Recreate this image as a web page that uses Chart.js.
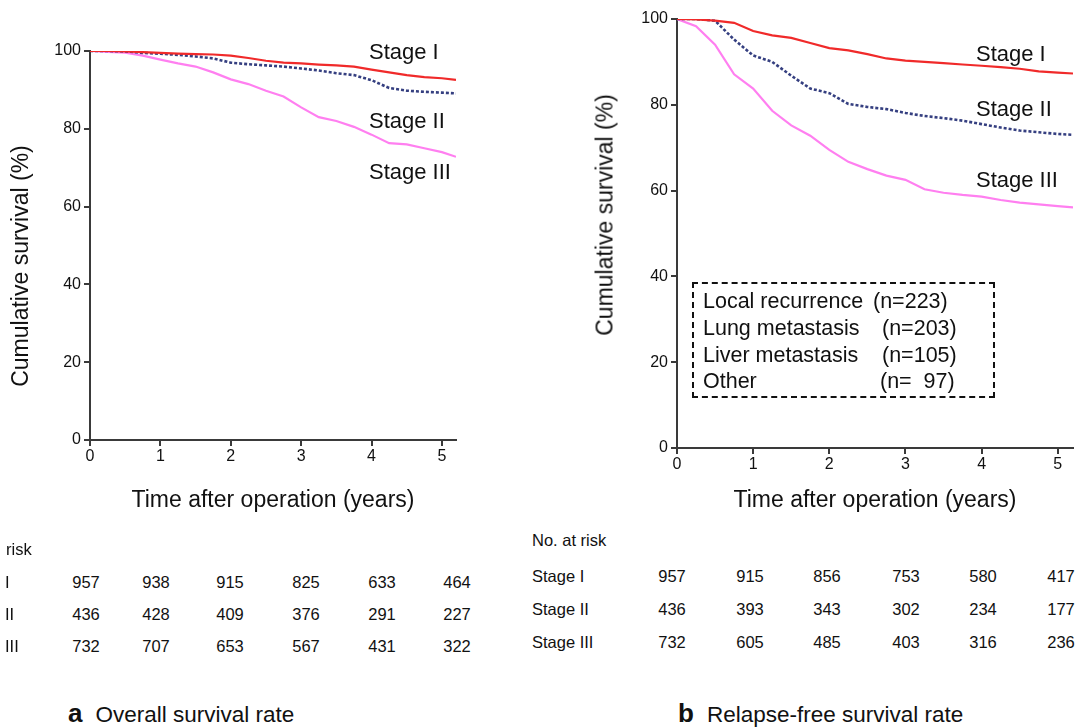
<!DOCTYPE html>
<html>
<head>
<meta charset="utf-8">
<script src="https://cdn.jsdelivr.net/npm/chart.js@4.4.1/dist/chart.umd.min.js"></script>
<style>
    body { margin: 0; background: #fff; font-family: "Liberation Sans", Arial, sans-serif; color: #111; }
    #page { position: relative; width: 1081px; height: 727px; overflow: hidden; }
    .chart-box { position: absolute; top: 0; }
    .txt { position: absolute; white-space: pre; line-height: 1; }
    .stage { font-size: 22px; transform: translateY(-50%); }
    .risk { font-size: 16.5px; transform: translateY(-50%); }
    .num { font-size: 16.5px; transform: translate(-50%, -50%); }
    .caption { font-size: 22.5px; transform: translateY(-50%); }
    .caption b { font-size: 26px; margin-right: 13px; }
    .ytitle { font-size: 23px; transform: translate(-50%, -50%) rotate(-90deg); }
    #legendBox { position: absolute; left: 692px; top: 282px; width: 299px; height: 112px; border: 2.5px dashed #111; }
    .leg { font-size: 21.5px; transform: translateY(-50%); }
</style>
</head>
<body>
<div id="page">
    <div class="chart-box" style="left:0; width:480px; height:520px;"><canvas id="osChart"></canvas></div>
    <div class="chart-box" style="left:585px; width:496px; height:520px;"><canvas id="rfsChart"></canvas></div>
    <div id="overlay"></div>
    <div id="legendBox"></div>
</div>
<script>
// Time points (years) used for reading the curves
const times = [0, 0.25, 0.5, 0.75, 1, 1.25, 1.5, 1.75, 2, 2.25, 2.5, 2.75, 3, 3.25, 3.5, 3.75, 4, 4.25, 4.5, 4.75, 5, 5.2];

// a: Overall survival (%)
const osStage1 = [100, 100, 99.9, 99.7, 99.5, 99.3, 99.2, 99.1, 98.8, 98.2, 97.5, 97.0, 96.8, 96.5, 96.3, 96.0, 95.2, 94.5, 93.8, 93.3, 93.0, 92.6];
const osStage2 = [100, 100, 99.9, 99.5, 99.3, 99.0, 98.6, 98.1, 97.0, 96.6, 96.3, 96.0, 95.5, 95.0, 94.3, 93.8, 92.5, 90.5, 89.8, 89.5, 89.3, 89.1];
const osStage3 = [100, 99.8, 99.6, 98.8, 97.8, 96.8, 96.0, 94.5, 92.7, 91.5, 89.8, 88.3, 85.5, 83.0, 82.0, 80.5, 78.5, 76.3, 76.0, 75.0, 74.0, 72.8];

// b: Relapse-free survival (%)
const rfsStage1 = [100, 99.9, 99.6, 99.1, 97.2, 96.2, 95.6, 94.4, 93.2, 92.7, 91.8, 90.8, 90.3, 90.0, 89.7, 89.4, 89.1, 88.8, 88.4, 87.8, 87.5, 87.3];
const rfsStage2 = [100, 100, 99.6, 95.2, 91.5, 90.0, 86.8, 83.8, 82.7, 80.2, 79.5, 79.0, 78.1, 77.4, 76.9, 76.3, 75.5, 74.7, 74.0, 73.6, 73.2, 73.0];
const rfsStage3 = [100, 98.3, 94.0, 87.1, 83.8, 78.6, 75.2, 72.8, 69.5, 66.7, 65.0, 63.5, 62.5, 60.3, 59.5, 59.0, 58.6, 57.8, 57.2, 56.8, 56.4, 56.1];

const stageNames = ['Stage I', 'Stage II', 'Stage III'];
const riskRowsA = ['I', 'II', 'III'];
const riskA = [
    [957, 938, 915, 825, 633, 464],
    [436, 428, 409, 376, 291, 227],
    [732, 707, 653, 567, 431, 322]
];
const riskB = [
    [957, 915, 856, 753, 580, 417],
    [436, 393, 343, 302, 234, 177],
    [732, 605, 485, 403, 316, 236]
];
const legendRows = [
    ['Local recurrence', '(n=223)'],
    ['Lung metastasis', '(n=203)'],
    ['Liver metastasis', '(n=105)'],
    ['Other', '(n=  97)']
];

const axisColor = '#3a3a3a';
const tickFont = { family: '"Liberation Sans", Arial, sans-serif', size: 16 };
const titleFont = { family: '"Liberation Sans", Arial, sans-serif', size: 23 };

function toPoints(ys) {
    return ys.map((y, i) => ({ x: times[i], y: y }));
}

function makeDatasets(s1, s2, s3) {
    return [
        { label: 'Stage I', data: toPoints(s1), borderColor: '#f02a2a', borderWidth: 2.2 },
        { label: 'Stage II', data: toPoints(s2), borderColor: '#353f80', borderWidth: 2.6, borderDash: [3, 2] },
        { label: 'Stage III', data: toPoints(s3), borderColor: '#ff7ff0', borderWidth: 2.2 }
    ].map(ds => ({ ...ds, pointRadius: 0, tension: 0, fill: false }));
}

function makeOptions(yWidth, xHeight, pad) {
    return {
        responsive: true,
        maintainAspectRatio: false,
        animation: false,
        layout: { padding: pad },
        plugins: { legend: { display: false }, tooltip: { enabled: false } },
        scales: {
            x: {
                type: 'linear',
                min: 0,
                max: 5.2,
                afterFit: s => { s.height = xHeight; },
                ticks: { stepSize: 1, includeBounds: false, color: '#111', font: tickFont, padding: 1, maxRotation: 0 },
                grid: { drawOnChartArea: false, color: axisColor, lineWidth: 2, tickLength: 6 },
                border: { color: axisColor, width: 2 },
                title: { display: true, text: 'Time after operation (years)', color: '#111', font: titleFont, padding: { bottom: 6 } }
            },
            y: {
                min: 0,
                max: 100,
                afterFit: s => { s.width = yWidth; },
                ticks: { stepSize: 20, color: '#111', font: tickFont, padding: 3 },
                grid: { drawOnChartArea: false, color: axisColor, lineWidth: 2, tickLength: 6 },
                border: { color: axisColor, width: 2 },
                // y title is placed as text below, off-centre like the original
                title: { display: false }
            }
        }
    };
}

new Chart(document.getElementById('osChart'), {
    type: 'line',
    data: { datasets: makeDatasets(osStage1, osStage2, osStage3) },
    options: makeOptions(90, 80, { top: 51, right: 24, left: 0, bottom: 0 })
});

new Chart(document.getElementById('rfsChart'), {
    type: 'line',
    data: { datasets: makeDatasets(rfsStage1, rfsStage2, rfsStage3) },
    options: makeOptions(92, 72, { top: 19, right: 8, left: 0, bottom: 0 })
});

// Text overlays: axis titles, stage labels, legend box text, risk tables, captions
const overlay = document.getElementById('overlay');
function addText(cls, text, left, top, html) {
    const el = document.createElement('div');
    el.className = 'txt ' + cls;
    el.style.left = left + 'px';
    el.style.top = top + 'px';
    if (html) el.innerHTML = text; else el.textContent = text;
    overlay.appendChild(el);
}

addText('ytitle', 'Cumulative survival (%)', 20, 266);
addText('ytitle', 'Cumulative survival (%)', 605, 215);

[52, 121, 172].forEach((y, i) => addText('stage', stageNames[i], 369, y));
[54, 109, 180].forEach((y, i) => addText('stage', stageNames[i], 976, y));

const legendY = [302, 329, 356, 382];
const legendNX = [873, 882, 882, 880];
legendY.forEach((y, i) => {
    addText('leg', legendRows[i][0], 703, y);
    addText('leg', legendRows[i][1], legendNX[i], y);
});

const colsA = [86, 156, 230, 306, 382, 457];
const rowsA = [582, 614, 646];
addText('risk', 'risk', 6, 549);
rowsA.forEach((y, r) => {
    addText('risk', riskRowsA[r], 5, y);
    riskA[r].forEach((v, c) => addText('num', String(v), colsA[c], y));
});

const colsB = [672, 750, 827, 906, 983, 1061];
const rowsB = [576, 609, 642];
addText('risk', 'No. at risk', 532, 540);
rowsB.forEach((y, r) => {
    addText('risk', stageNames[r], 532, y);
    riskB[r].forEach((v, c) => addText('num', String(v), colsB[c], y));
});

addText('caption', '<b>a</b>Overall survival rate', 68, 713, true);
addText('caption', '<b>b</b>Relapse-free survival rate', 678, 713, true);
</script>
</body>
</html>
